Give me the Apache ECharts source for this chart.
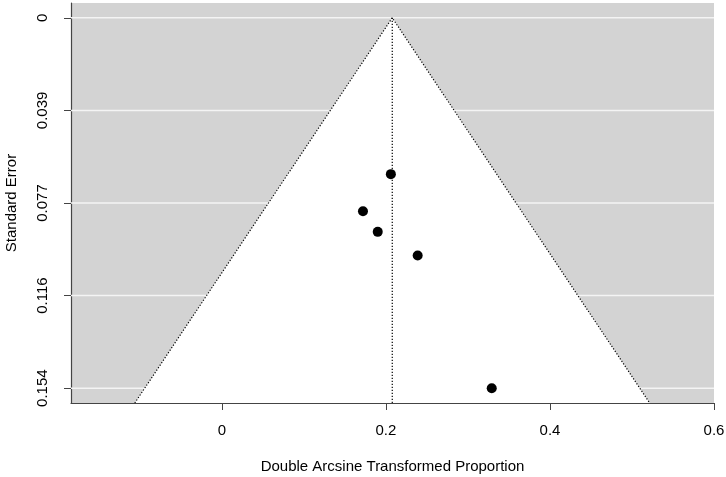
<!DOCTYPE html>
<html>
<head>
<meta charset="utf-8">
<script src="https://cdn.jsdelivr.net/npm/echarts@6/dist/echarts.min.js"></script>
<style>html,body{margin:0;padding:0;background:#fff}#c{width:726px;height:477px}</style>
</head>
<body>
<div id="c"></div>
<script>
// Data
var effects = [0.206, 0.172, 0.190, 0.2387, 0.329];
var stdErrors = [0.0650, 0.0804, 0.0890, 0.0988, 0.154];
var pooledEstimate = 0.2077;
var xTicks = [0, 0.2, 0.4, 0.6];
var xTickLabels = ['0', '0.2', '0.4', '0.6'];
var yTicks = [0, 0.0385, 0.077, 0.1155, 0.154];
var yTickLabels = ['0', '0.039', '0.077', '0.116', '0.154'];
var xMin = -0.184, xMax = 0.6;
var yMin = -0.00616, yMax = 0.16016;

var FONT = 'Liberation Sans';
var chart = echarts.init(document.getElementById('c'));

var points = effects.map(function (x, i) { return [x, stdErrors[i]]; });
var triangle = [
  [pooledEstimate - 1.96 * yMax, yMax],
  [pooledEstimate, 0],
  [pooledEstimate + 1.96 * yMax, yMax]
];

chart.setOption({
  animation: false,
  textStyle: { fontFamily: FONT },
  grid: {
    left: 71, right: 12, top: 3, bottom: 74,
    outerBoundsMode: 'none', containLabel: false,
    show: true, backgroundColor: '#d3d3d3', borderWidth: 0
  },
  xAxis: {
    type: 'value', min: xMin, max: xMax,
    name: 'Double Arcsine Transformed Proportion',
    nameLocation: 'middle', nameGap: 56,
    nameTextStyle: { fontSize: 15, color: '#000', fontFamily: FONT },
    axisLine: { show: true, onZero: false, lineStyle: { color: '#444', width: 1.2 } },
    axisTick: { show: true, length: 7, lineStyle: { color: '#444' }, customValues: xTicks },
    axisLabel: {
      fontSize: 15, color: '#000', margin: 20, fontFamily: FONT,
      customValues: xTicks, hideOverlap: false,
      formatter: function (v) {
        var i = xTicks.findIndex(function (t) { return Math.abs(t - v) < 1e-9; });
        return i >= 0 ? xTickLabels[i] : '';
      }
    },
    splitLine: { show: false }
  },
  yAxis: {
    type: 'value', min: yMin, max: yMax, inverse: true,
    name: 'Standard Error',
    nameLocation: 'middle', nameGap: 52,
    nameTextStyle: { fontSize: 15, color: '#000', fontFamily: FONT },
    axisLine: { show: true, onZero: false, lineStyle: { color: '#444', width: 1.2 } },
    axisTick: { show: true, length: 7, lineStyle: { color: '#444' }, customValues: yTicks },
    axisLabel: {
      fontSize: 15, color: '#000', margin: 21, rotate: 90, fontFamily: FONT,
      customValues: yTicks, hideOverlap: false,
      formatter: function (v) {
        var i = yTicks.findIndex(function (t) { return Math.abs(t - v) < 1e-9; });
        return i >= 0 ? yTickLabels[i] : '';
      }
    },
    splitLine: { show: false }
  },
  series: [
    {
      type: 'custom', z: 1, silent: true,
      data: yTicks.map(function (t) { return [t]; }),
      renderItem: function (params, api) {
        var v = api.value(0);
        var p1 = api.coord([xMin, v]);
        var p2 = api.coord([xMax, v]);
        return {
          type: 'line',
          shape: { x1: p1[0], y1: p1[1], x2: p2[0], y2: p2[1] },
          style: { stroke: '#f4f4f4', lineWidth: 1.5 }
        };
      }
    },
    {
      type: 'custom', z: 2, silent: true, clip: true,
      data: [0],
      renderItem: function (params, api) {
        var pts = triangle.map(function (p) { return api.coord(p); });
        return {
          type: 'group',
          children: [
            { type: 'polygon', shape: { points: pts }, style: { fill: '#fff', stroke: null } },
            { type: 'polyline', shape: { points: pts },
              style: { stroke: '#000', lineWidth: 1.2, lineDash: [1.2, 1.8], fill: null } }
          ]
        };
      }
    },
    {
      type: 'line', z: 3, silent: true, symbol: 'none',
      data: [[pooledEstimate, 0], [pooledEstimate, yMax]],
      lineStyle: { color: '#000', width: 1.2, type: [1.2, 1.8] }
    },
    {
      type: 'scatter', z: 4,
      data: points,
      symbol: 'circle', symbolSize: 10,
      itemStyle: { color: '#000', opacity: 1 }
    }
  ]
});
</script>
</body>
</html>
